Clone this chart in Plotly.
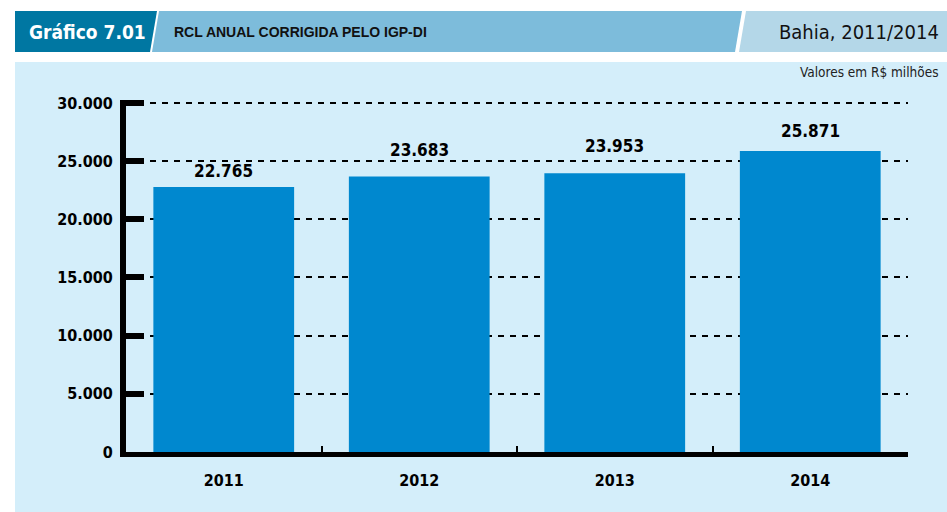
import plotly.graph_objects as go

categories = ["2011", "2012", "2013", "2014"]
values = [22765, 23683, 23953, 25871]
value_labels = ["22.765", "23.683", "23.953", "25.871"]
ytick_vals = [0, 5000, 10000, 15000, 20000, 25000, 30000]
ytick_text = ["0", "5.000", "10.000", "15.000", "20.000", "25.000", "30.000"]

# per-label vertical nudge (px) so labels sit between gridlines as in the source
label_nudge = [4, 14, 15, 8]

W, H = 947, 512
L, R, T, B = 126, 908, 100, 452  # plot area in pixels
YMAX = 30250

def px(x):
    return (x - L) / (R - L)

def py(y):
    return (B - y) / (B - T)

def poly(pts):
    return "M " + " L ".join(f"{px(x):.5f},{py(y):.5f}" for x, y in pts) + " Z"

COND = "Liberation Sans Narrow, DejaVu Sans Condensed, Arial Narrow, sans-serif"

fig = go.Figure()
fig.add_trace(go.Bar(
    x=categories, y=values,
    marker=dict(color="#0088CF", line=dict(width=0)),
    width=0.72, hoverinfo="skip",
))

shapes = [
    dict(type="path", xref="paper", yref="paper", layer="below",
         path=poly([(15, 62), (947, 62), (947, 512), (15, 512)]),
         fillcolor="#D4EEFA", line=dict(width=0)),
    dict(type="path", xref="paper", yref="paper", layer="below",
         path=poly([(15, 11), (157, 11), (150, 52), (15, 52)]),
         fillcolor="#0077A2", line=dict(width=0)),
    dict(type="path", xref="paper", yref="paper", layer="below",
         path=poly([(159, 11), (742, 11), (735, 52), (152, 52)]),
         fillcolor="#7DBCDB", line=dict(width=0)),
    dict(type="path", xref="paper", yref="paper", layer="below",
         path=poly([(746, 11), (947, 11), (947, 52), (739, 52)]),
         fillcolor="#B4D7E8", line=dict(width=0)),
]

annotations = [
    dict(x=px(27), y=py(32), xref="paper", yref="paper", xanchor="left", yanchor="middle",
         text="<b>Gráfico 7.01</b>", showarrow=False,
         font=dict(family=COND, size=19, color="white")),
    dict(x=px(172), y=py(32), xref="paper", yref="paper", xanchor="left", yanchor="middle",
         text="<b>RCL ANUAL CORRIGIDA PELO IGP-DI</b>", showarrow=False,
         font=dict(family="Liberation Sans, Arial, sans-serif", size=14, color="#111111")),
    dict(x=px(941), y=py(32), xref="paper", yref="paper", xanchor="right", yanchor="middle",
         text="Bahia, 2011/2014", showarrow=False,
         font=dict(family=COND, size=20, color="#111111")),
    dict(x=px(941), y=py(72), xref="paper", yref="paper", xanchor="right", yanchor="middle",
         text="Valores em R$ milhões", showarrow=False,
         font=dict(family=COND, size=13.5, color="#222222")),
]
for i, (v, t, n) in enumerate(zip(values, value_labels, label_nudge)):
    annotations.append(dict(
        x=i, y=v, xref="x", yref="y", text=f"<b>{t}</b>", showarrow=False,
        yanchor="bottom", yshift=n,
        font=dict(family=COND, size=17, color="black"),
    ))

fig.update_layout(
    width=W, height=H,
    margin=dict(l=L, r=W - R, t=T, b=H - B, autoexpand=False),
    paper_bgcolor="white", plot_bgcolor="rgba(0,0,0,0)",
    showlegend=False, bargap=0.28,
    shapes=shapes, annotations=annotations,
    xaxis=dict(
        type="category", range=[-0.5, len(categories) - 0.5],
        showline=True, linecolor="black", linewidth=5,
        ticks="inside", tickson="boundaries", ticklen=6, tickwidth=2, tickcolor="black",
        tickfont=dict(family=COND, size=16, color="black", weight="bold"),
        ticklabelstandoff=10, showgrid=False, zeroline=False, fixedrange=True,
    ),
    yaxis=dict(
        range=[0, YMAX], tickvals=ytick_vals, ticktext=ytick_text,
        showline=True, linecolor="black", linewidth=6,
        ticks="inside", ticklen=18, tickwidth=6, tickcolor="black",
        tickfont=dict(family=COND, size=16, color="black", weight="bold"),
        ticklabelstandoff=4,
        showgrid=True, gridcolor="black", gridwidth=1.5, griddash="6px,6px",
        zeroline=False, fixedrange=True,
    ),
)

fig.write_html("out.html", config={"displayModeBar": False},
               post_script="document.body.style.margin='0';document.body.style.overflow='hidden';")
